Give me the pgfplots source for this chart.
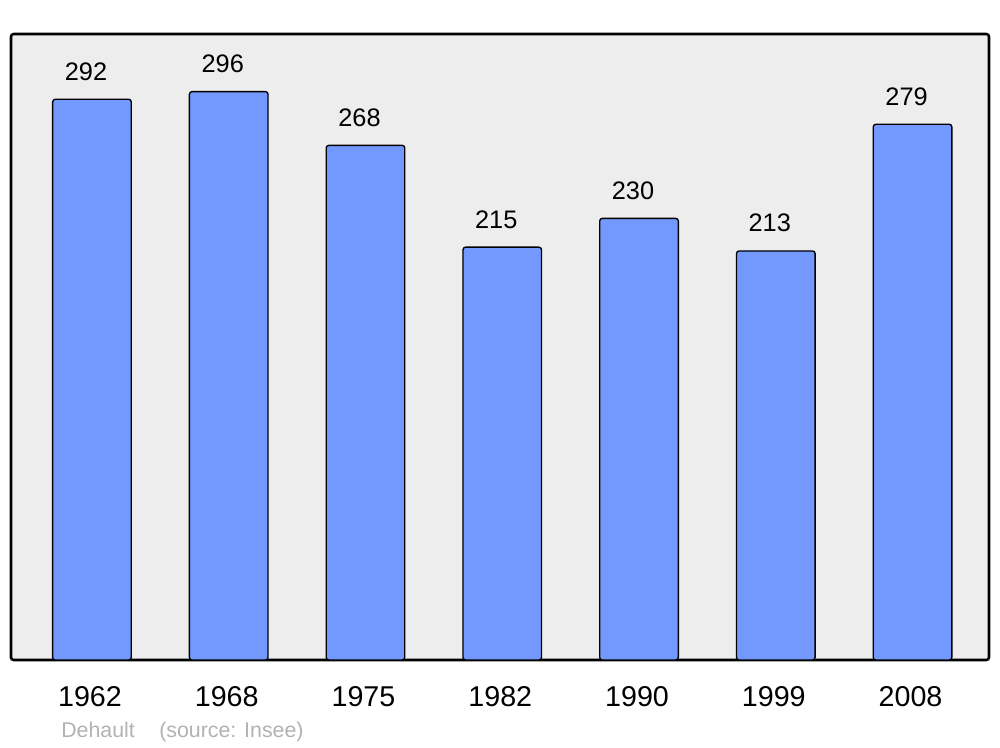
\documentclass[border=0pt]{standalone}
\usepackage{pgfplots}
\pgfplotsset{compat=1.18}
\usepackage{fontspec}
\setmainfont{Liberation Sans}
\definecolor{barblue}{RGB}{115,153,255}
\definecolor{bggray}{RGB}{237,237,237}
\definecolor{srcgray}{RGB}{178,178,178}
\begin{document}
\begin{tikzpicture}
\useasboundingbox (-8.25pt,-65.25pt) rectangle (741.75pt,495pt);
\begin{axis}[
  at={(0,0)}, anchor=south west,
  scale only axis,
  width=733.5pt, height=469.5pt,
  xmin=-0.592, xmax=6.559,
  ymin=0, ymax=326,
  ytick=\empty,
  xtick=data,
  xticklabels={1962,1968,1975,1982,1990,1999,2008},
  major tick length=0pt,
  xticklabel style={font=\fontsize{21.5}{24}\selectfont, anchor=base, yshift=-34.5pt, xshift=-1.5pt, inner sep=0pt},
  axis background/.style={fill=bggray, rounded corners=2pt},
  axis line style={line width=1.9pt, rounded corners=2pt},
  ybar,
  bar width=0.575,
  nodes near coords,
  /pgf/number format/assume math mode=true,
  every node near coord/.append style={font=\fontsize{19}{22}\selectfont, anchor=base, yshift=14.25pt, xshift=-4.5pt, inner sep=0pt, text=black},
  clip=false,
]
\addplot[fill=barblue, draw=black, line width=1pt, rounded corners=2pt] coordinates {
(0,292) (1,296) (2,268) (3,215) (4,230) (5,213) (6,279)};
\end{axis}
\node[anchor=base west, inner sep=0pt, text=srcgray, font=\fontsize{16}{19}\selectfont] at (37.5pt,-57.75pt) {Dehault};
\node[anchor=base west, inner sep=0pt, text=srcgray, font=\fontsize{16}{19}\selectfont] at (111pt,-57.75pt) {(source: Insee)};
\end{tikzpicture}
\end{document}
